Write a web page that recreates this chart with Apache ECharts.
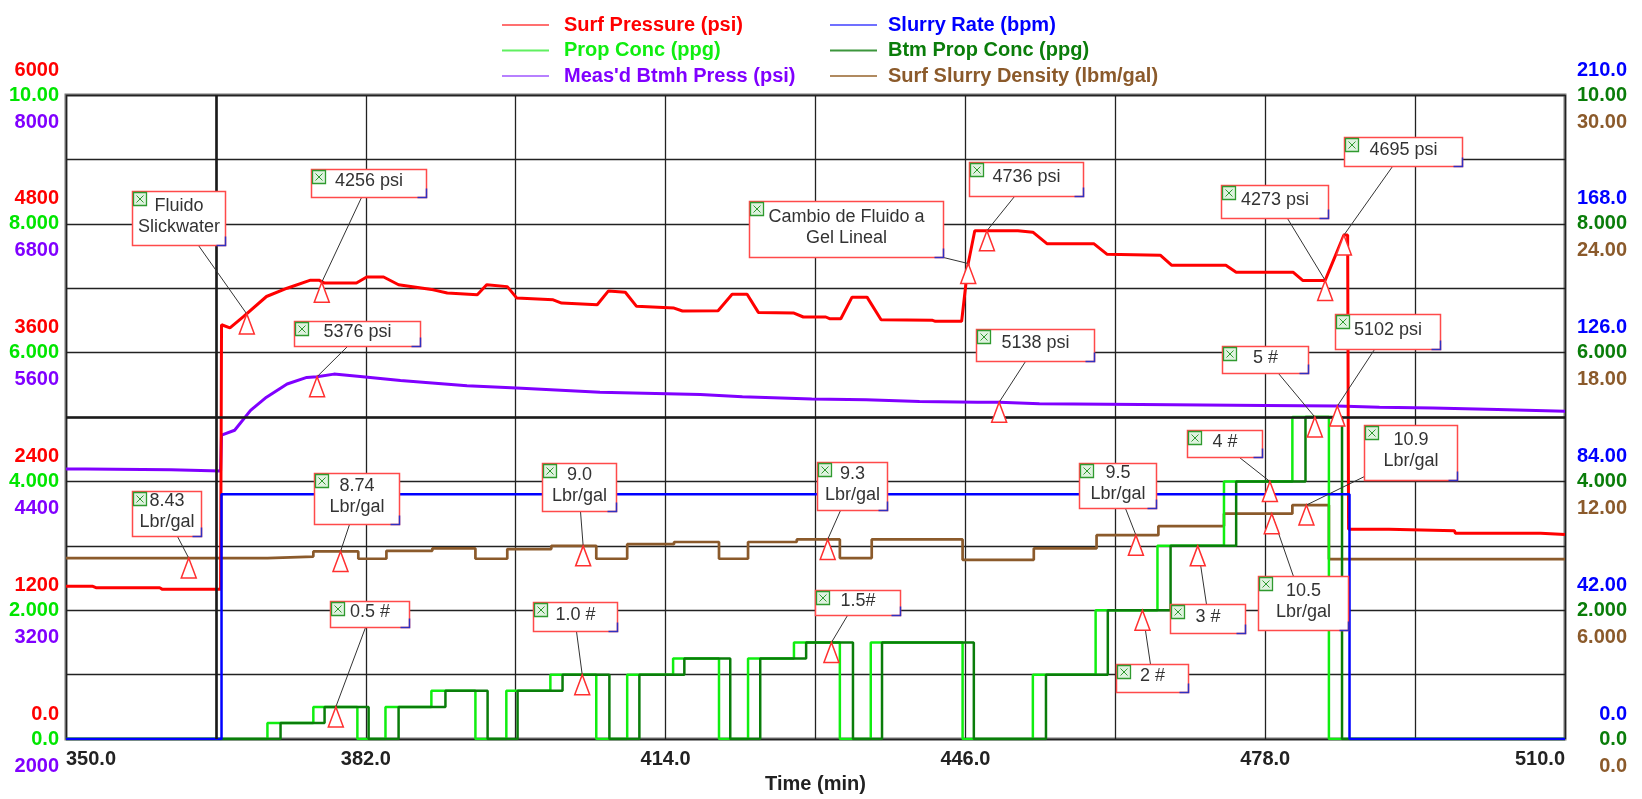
<!DOCTYPE html>
<html>
<head>
<meta charset="utf-8">
<script src="https://cdn.jsdelivr.net/npm/echarts@6/dist/echarts.min.js"></script>
<style>
  html, body { margin: 0; padding: 0; background: #ffffff; overflow: hidden; }
  #chart { width: 1642px; height: 799px; display: block; }
</style>
</head>
<body>
<div id="chart"></div>
<script>
// ---- Treatment data (time in minutes) ----
const surfPressure = [
  [350, 1425], [352.8, 1425], [353.2, 1410], [360, 1410], [360.3, 1395], [366.5, 1395],
  [366.6, 3860], [367.5, 3830], [369, 3940], [371.4, 4123], [373.6, 4200], [376.1, 4275],
  [377, 4275], [377.6, 4248], [381, 4248], [382.1, 4305], [383.9, 4305], [385.5, 4232],
  [389.2, 4185], [390.7, 4155], [393.9, 4140], [394.9, 4232], [397.1, 4215], [398.1, 4110],
  [402, 4092], [402.9, 4062], [406.7, 4046], [407.9, 4175], [409.7, 4163], [410.9, 4031],
  [414.9, 4015], [415.8, 3988], [419.6, 3990], [421.1, 4144], [422.7, 4144], [423.9, 3975],
  [427.7, 3969], [428.7, 3932], [431.1, 3932], [431.5, 3916], [432.7, 3916], [433.9, 4117],
  [435.5, 4117], [437, 3907], [442.5, 3901], [442.8, 3892], [445.6, 3892], [446.3, 4430],
  [447, 4736], [451.6, 4736], [453.2, 4722], [454.7, 4615], [459.7, 4615], [461.1, 4517],
  [466.8, 4508], [468, 4415], [473.8, 4415], [474.9, 4348], [481, 4348], [482, 4273],
  [484.4, 4273], [486.4, 4695], [486.8, 4695], [486.9, 1955], [491.2, 1955], [491.3, 1940],
  [498.2, 1940], [498.3, 1917], [507.4, 1917], [507.5, 1905], [510, 1905]
];

const btmhPressure = [
  [350, 4517], [352.1, 4517], [352.2, 4508], [361.2, 4508], [361.3, 4498], [366.5, 4498],
  [366.6, 4831], [368, 4877], [369.7, 5062], [371.4, 5185], [373.6, 5308], [375.7, 5369],
  [376.8, 5376], [378.6, 5400], [381.4, 5378], [385.7, 5340], [392.8, 5292], [398.1, 5270],
  [407, 5231], [417.7, 5210], [422.2, 5190], [429.6, 5169], [435.4, 5160], [441.1, 5145],
  [447.3, 5138], [449.6, 5138], [453.9, 5123], [464.7, 5117], [478, 5108], [485.7, 5102],
  [490.2, 5092], [495.9, 5084], [496, 5070], [502.8, 5070], [502.9, 5055], [510, 5055]
];

// Step series: each point holds its value until the next time stamp
const slurryRate = [[350, 0], [366.6, 79.8], [487, 0], [510, 0]];

const propConc = [
  [350, 0], [371.5, 0.25], [376.4, 0.5], [381.1, 0], [384.1, 0.5], [389.0, 0.75],
  [393.7, 0], [397.0, 0.75], [401.7, 1.0], [406.6, 0], [409.9, 1.0], [414.8, 1.25],
  [419.7, 0], [422.8, 1.25], [427.7, 1.5], [432.6, 0], [435.9, 1.5], [445.7, 0],
  [453.2, 1.0], [459.9, 2.0], [466.5, 3.0], [473.6, 4.0], [480.9, 5.0], [484.8, 0], [510, 0]
];

const btmPropConc = [
  [350, 0], [372.9, 0.25], [377.6, 0.5], [382.3, 0], [385.5, 0.5], [390.5, 0.75],
  [395.0, 0], [398.2, 0.75], [403.0, 1.0], [408.0, 0], [411.2, 1.0], [416.0, 1.25],
  [420.9, 0], [424.1, 1.25], [429.0, 1.5], [434.0, 0], [437.1, 1.5], [446.9, 0],
  [454.6, 1.0], [461.2, 2.0], [467.9, 3.0], [474.9, 4.0], [482.3, 5.0], [486.2, 0], [510, 0]
];

const slurryDensity = [
  [350, 8.43], [371.5, 8.5], [376.4, 8.74], [381.2, 8.4], [384.2, 8.77], [389.1, 8.88],
  [393.7, 8.4], [397.1, 8.85], [401.8, 9.0], [406.6, 8.4], [409.9, 9.08], [414.9, 9.18],
  [419.7, 8.4], [422.8, 9.18], [428.0, 9.3], [432.6, 8.43], [436.0, 9.3], [445.7, 8.35],
  [453.3, 8.88], [460.0, 9.5], [466.6, 9.92], [473.6, 10.5], [480.9, 10.9], [484.8, 8.38],
  [510, 8.38]
];

// ---- Tick labels ----
const timeTicks = ['350.0', '382.0', '414.0', '446.0', '478.0', '510.0'];
const surfPressureTicks = ['0.0', '1200', '2400', '3600', '4800', '6000'];
const propConcTicks = ['0.0', '2.000', '4.000', '6.000', '8.000', '10.00'];
const btmhPressTicks = ['2000', '3200', '4400', '5600', '6800', '8000'];
const slurryRateTicks = ['0.0', '42.00', '84.00', '126.0', '168.0', '210.0'];
const btmPropTicks = ['0.0', '2.000', '4.000', '6.000', '8.000', '10.00'];
const densityTicks = ['0.0', '6.000', '12.00', '18.00', '24.00', '30.00'];

// ---- Callouts: time, value, which curve, text ----
const calloutTimes = [369.3, 377.3, 446.3, 448.3, 484.4, 486.4,
  376.8, 449.6, 485.7,
  363.1, 379.3, 405.2, 431.3, 464.2, 478.7, 482.4,
  378.8, 405.1, 431.7, 464.9, 470.8, 478.5, 483.3];
const calloutValues = [3960, 4256, 4430, 4736, 4273, 4695,
  5376, 5138, 5102,
  8.43, 8.74, 9.0, 9.3, 9.5, 10.5, 10.9,
  0.5, 1.0, 1.5, 2, 3, 4, 5];
const calloutCurve = ['press', 'press', 'press', 'press', 'press', 'press',
  'btmh', 'btmh', 'btmh',
  'dens', 'dens', 'dens', 'dens', 'dens', 'dens', 'dens',
  'prop', 'prop', 'prop', 'prop', 'prop', 'prop', 'prop'];
const calloutTexts = ['Fluido\nSlickwater', '4256 psi', 'Cambio de Fluido a\nGel Lineal', '4736 psi', '4273 psi', '4695 psi',
  '5376 psi', '5138 psi', '5102 psi',
  '8.43\nLbr/gal', '8.74\nLbr/gal', '9.0\nLbr/gal', '9.3\nLbr/gal', '9.5\nLbr/gal', '10.5\nLbr/gal', '10.9\nLbr/gal',
  '0.5 #', '1.0 #', '1.5#', '2 #', '3 #', '4 #', '5 #'];

// Box layout relative to the marker tip: [dx, dy, width, height, leaderX, leaderY]
const calloutBoxes = [
  [-115, -123, 93, 54, 66, 54], [-11, -113, 115, 28, 50, 28], [-219, -63, 194, 56, 194, 56],
  [-18, -69, 114, 34, 45, 34], [-104, -95, 107, 33, 66, 33], [0, -98, 118, 29, 48, 29],
  [-23, -56, 126, 25, 53, 25], [-23, -73, 118, 32, 49, 32], [-2, -92, 105, 35, 39, 35],
  [-57, -67, 69, 45, 45, 45], [-27, -78, 85, 51, 35, 51], [-41, -83, 74, 48, 38, 48],
  [-11, -77, 70, 48, 23, 48], [-57, -72, 77, 45, 46, 45], [-14, 62, 90, 54, 35, 0],
  [58, -80, 93, 55, 0, 51],
  [-6, -106, 79, 26, 35, 26], [-49, -73, 84, 29, 43, 29], [-16, -52, 85, 25, 32, 25],
  [-26, 54, 72, 28, 34, 0], [-28, 58, 75, 29, 36, 0], [-83, -51, 75, 27, 52, 27],
  [-93, -71, 86, 27, 56, 27]
];

const FONT = '"Liberation Sans", Arial, Helvetica, sans-serif';
const C = {
  red: '#ff0000', lime: '#10ee10', purple: '#8000ff',
  blue: '#0000ff', green: '#0a7d0a', brown: '#8b5a2b'
};

const chart = echarts.init(document.getElementById('chart'), null, { renderer: 'canvas' });

function renderCallout(params, api) {
  const i = api.value(2);
  const p = api.coord([api.value(0), api.value(1)]);
  const b = calloutBoxes[i];
  const bx = Math.round(p[0] + b[0]) + 0.5;
  const by = Math.round(p[1] + b[1]) + 0.5;
  const w = b[2], h = b[3];
  return {
    type: 'group',
    children: [
      { type: 'line', shape: { x1: bx + b[4], y1: by + b[5], x2: p[0], y2: p[1] },
        style: { stroke: '#333333', lineWidth: 1 } },
      { type: 'polygon', shape: { points: [[p[0], p[1]], [p[0] - 7.5, p[1] + 20], [p[0] + 7.5, p[1] + 20]] },
        style: { fill: '#ffffff', stroke: '#ff3030', lineWidth: 1.5 } },
      { type: 'rect', shape: { x: bx, y: by, width: w, height: h },
        style: { fill: '#ffffff', stroke: '#ff4a4a', lineWidth: 1.5 } },
      { type: 'polyline', shape: { points: [[bx + w, by + h - 9], [bx + w, by + h], [bx + w - 9, by + h]] },
        style: { fill: null, stroke: '#3030c0', lineWidth: 1.5 } },
      { type: 'rect', shape: { x: bx + 1, y: by + 1, width: 13, height: 13 },
        style: { fill: '#dff2df', stroke: '#2f9a2f', lineWidth: 1.3 } },
      { type: 'line', shape: { x1: bx + 4, y1: by + 4, x2: bx + 11, y2: by + 11 },
        style: { stroke: '#2f9a2f', lineWidth: 1 } },
      { type: 'line', shape: { x1: bx + 11, y1: by + 4, x2: bx + 4, y2: by + 11 },
        style: { stroke: '#2f9a2f', lineWidth: 1 } },
      { type: 'text', x: bx + w / 2, y: by + h / 2 - 2,
        style: { text: calloutTexts[i], fill: '#333333', fontSize: 18, fontFamily: FONT,
                 align: 'center', verticalAlign: 'middle', lineHeight: 21 } }
    ]
  };
}

function calloutSeries(curve, yAxisIndex) {
  const data = [];
  calloutTimes.forEach((t, i) => {
    if (calloutCurve[i] === curve) data.push([t, calloutValues[i], i]);
  });
  return {
    type: 'custom', name: 'callouts-' + curve, yAxisIndex: yAxisIndex,
    renderItem: renderCallout, data: data, encode: { x: 0, y: 1 },
    z: 10, silent: true, clip: false
  };
}

const labelBase = { fontFamily: FONT, fontSize: 20, fontWeight: 'bold' };

// place: 'above' | 'on' | 'below' the tick, so three scales can share one side
function labelPlacement(place) {
  if (place === 'above') return { verticalAlign: 'bottom', lineHeight: 50 };
  if (place === 'below') return { verticalAlign: 'top', lineHeight: 54 };
  return { verticalAlign: 'middle', lineHeight: 24 };
}

function leftAxis(min, max, interval, color, formatter, place, split) {
  return {
    type: 'value', position: 'left', min: min, max: max, interval: interval,
    axisLine: { show: false }, axisTick: { show: false },
    splitLine: split ? { show: true, lineStyle: { color: '#222222', width: 1.3 } } : { show: false },
    axisLabel: Object.assign({}, labelBase, labelPlacement(place), { color: color, margin: 7, formatter: formatter })
  };
}
function rightAxis(min, max, interval, color, formatter, place) {
  return {
    type: 'value', position: 'right', min: min, max: max, interval: interval,
    axisLine: { show: false }, axisTick: { show: false }, splitLine: { show: false },
    axisLabel: Object.assign({}, labelBase, labelPlacement(place), { color: color, margin: 62, align: 'right', formatter: formatter })
  };
}

const legendText = { fontFamily: FONT, fontSize: 20, fontWeight: 'bold', lineHeight: 20 };

const option = {
  animation: false,
  backgroundColor: '#ffffff',
  grid: { left: 66, top: 95, width: 1499, height: 650, show: true, borderColor: '#777777', borderWidth: 3, backgroundColor: '#ffffff' },
  legend: [
    { orient: 'vertical', left: 497, top: 10, itemWidth: 47, itemHeight: 2, icon: 'rect', itemGap: 5.5,
      selectedMode: false, textStyle: Object.assign({ padding: [0, 0, 0, 10] }, legendText),
      data: [
        { name: 'Surf Pressure (psi)', itemStyle: { color: '#ff7070' }, textStyle: { color: C.red } },
        { name: 'Prop Conc (ppg)', itemStyle: { color: '#60f060' }, textStyle: { color: C.lime } },
        { name: "Meas'd Btmh Press (psi)", itemStyle: { color: '#b780ff' }, textStyle: { color: C.purple } }
      ] },
    { orient: 'vertical', left: 825, top: 10, itemWidth: 47, itemHeight: 2, icon: 'rect', itemGap: 5.5,
      selectedMode: false, textStyle: Object.assign({ padding: [0, 0, 0, 6] }, legendText),
      data: [
        { name: 'Slurry Rate (bpm)', itemStyle: { color: '#7070ff' }, textStyle: { color: C.blue } },
        { name: 'Btm Prop Conc (ppg)', itemStyle: { color: '#3c963c' }, textStyle: { color: C.green } },
        { name: 'Surf Slurry Density (lbm/gal)', itemStyle: { color: '#b08a60' }, textStyle: { color: C.brown } }
      ] }
  ],
  xAxis: {
    type: 'value', min: 350, max: 510, interval: 16,
    name: 'Time (min)', nameLocation: 'middle', nameGap: 23,
    nameTextStyle: { fontFamily: FONT, fontSize: 20, fontWeight: 'bold', color: '#222222' },
    axisLine: { show: false }, axisTick: { show: false },
    splitLine: { show: true, lineStyle: { color: '#222222', width: 1.3 } },
    axisLabel: Object.assign({}, labelBase, {
      color: '#222222', margin: 10, alignMinLabel: 'left', alignMaxLabel: 'right',
      formatter: function (v) {
        const k = (v - 350) / 32;
        return Math.abs(k - Math.round(k)) < 1e-6 ? timeTicks[Math.round(k)] : '';
      }
    })
  },
  yAxis: [
    leftAxis(0, 6000, 1200, C.red, v => surfPressureTicks[Math.round(v / 1200)], 'above', false),
    leftAxis(0, 10, 1, '#00e600', v => (Math.round(v) % 2 === 0 ? propConcTicks[Math.round(v) / 2] : ''), 'on', true),
    leftAxis(2000, 8000, 1200, C.purple, v => btmhPressTicks[Math.round((v - 2000) / 1200)], 'below', false),
    rightAxis(0, 210, 42, C.blue, v => slurryRateTicks[Math.round(v / 42)], 'above'),
    rightAxis(0, 10, 2, C.green, v => btmPropTicks[Math.round(v / 2)], 'on'),
    rightAxis(0, 30, 6, C.brown, v => densityTicks[Math.round(v / 6)], 'below')
  ],
  series: [
    { type: 'line', name: 'grid-accent', yAxisIndex: 1, data: [], z: 1, silent: true,
      markLine: { silent: true, symbol: 'none', label: { show: false },
        lineStyle: { color: '#1a1a1a', width: 2.6, type: 'solid' },
        data: [{ xAxis: 366 }, { yAxis: 5 }] } },
    { type: 'line', name: 'Surf Slurry Density (lbm/gal)', yAxisIndex: 5, data: slurryDensity, step: 'end',
      showSymbol: false, symbol: 'none', lineStyle: { color: C.brown, width: 2.7 }, itemStyle: { color: C.brown } },
    { type: 'line', name: "Meas'd Btmh Press (psi)", yAxisIndex: 2, data: btmhPressure,
      showSymbol: false, symbol: 'none', lineStyle: { color: C.purple, width: 3 }, itemStyle: { color: C.purple } },
    { type: 'line', name: 'Surf Pressure (psi)', yAxisIndex: 0, data: surfPressure,
      showSymbol: false, symbol: 'none', lineStyle: { color: C.red, width: 3 }, itemStyle: { color: C.red } },
    { type: 'line', name: 'Prop Conc (ppg)', yAxisIndex: 1, data: propConc, step: 'end',
      showSymbol: false, symbol: 'none', lineStyle: { color: C.lime, width: 2.5 }, itemStyle: { color: C.lime } },
    { type: 'line', name: 'Btm Prop Conc (ppg)', yAxisIndex: 4, data: btmPropConc, step: 'end',
      showSymbol: false, symbol: 'none', lineStyle: { color: C.green, width: 2.5 }, itemStyle: { color: C.green } },
    { type: 'line', name: 'Slurry Rate (bpm)', yAxisIndex: 3, data: slurryRate, step: 'end',
      showSymbol: false, symbol: 'none', lineStyle: { color: C.blue, width: 2.5 }, itemStyle: { color: C.blue } },
    calloutSeries('press', 0),
    calloutSeries('btmh', 2),
    calloutSeries('dens', 5),
    calloutSeries('prop', 1)
  ]
};

chart.setOption(option);
</script>
</body>
</html>
